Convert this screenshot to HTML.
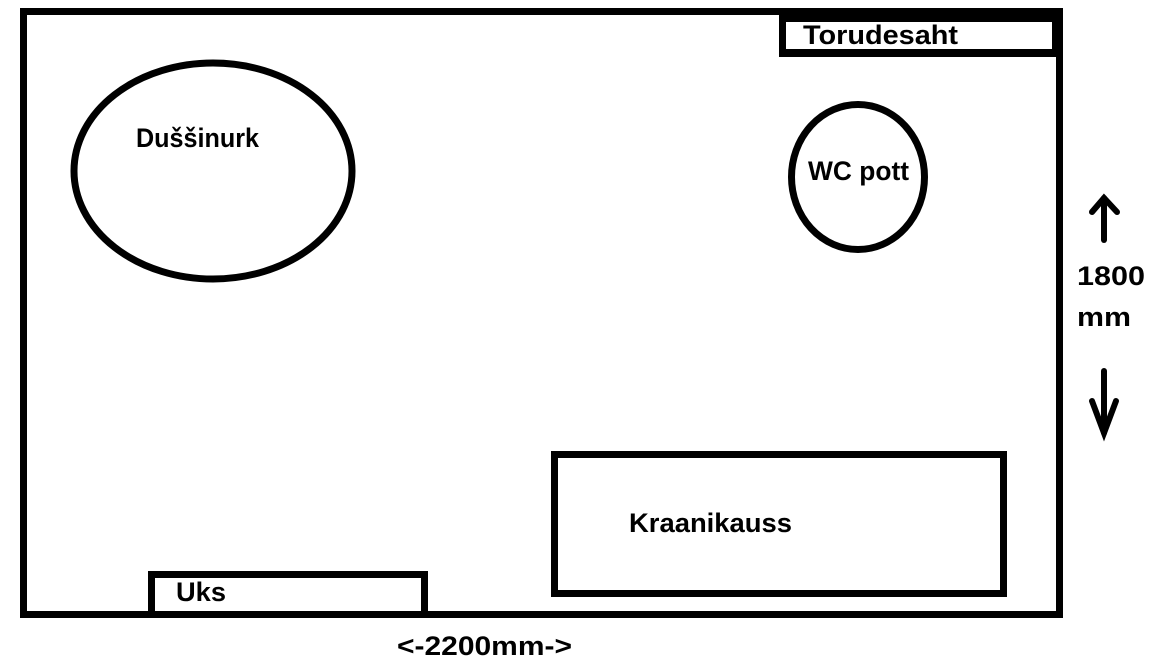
<!DOCTYPE html>
<html><head><meta charset="utf-8"><style>
html,body{margin:0;padding:0;background:#fff;}
svg{display:block}
text{font-family:"Liberation Sans",sans-serif;font-weight:bold;font-size:27px;fill:#000}
</style></head><body>
<svg width="1152" height="661" viewBox="0 0 1152 661" xmlns="http://www.w3.org/2000/svg">
<rect x="0" y="0" width="1152" height="661" fill="#fff"/>
<rect x="23.5" y="11.5" width="1036" height="603" fill="none" stroke="#000" stroke-width="7"/>
<rect x="779" y="8" width="284" height="49" fill="#000"/>
<rect x="786" y="22" width="266" height="27" fill="#fff"/>
<text x="803" y="44" textLength="155" lengthAdjust="spacingAndGlyphs">Torudesaht</text>
<ellipse cx="213" cy="171" rx="139" ry="108" fill="none" stroke="#000" stroke-width="7"/>
<text x="136" y="147" textLength="123" lengthAdjust="spacingAndGlyphs">Duššinurk</text>
<ellipse cx="858" cy="177" rx="66.5" ry="72.5" fill="none" stroke="#000" stroke-width="7"/>
<text x="808" y="180" textLength="101" lengthAdjust="spacingAndGlyphs">WC pott</text>
<rect x="554.5" y="454.5" width="449" height="139" fill="none" stroke="#000" stroke-width="7"/>
<text x="629" y="532" textLength="163" lengthAdjust="spacingAndGlyphs">Kraanikauss</text>
<rect x="151.5" y="574.5" width="273" height="40" fill="#fff" stroke="#000" stroke-width="7"/>
<text x="176" y="601" textLength="50" lengthAdjust="spacingAndGlyphs">Uks</text>
<text x="397" y="655" textLength="175" lengthAdjust="spacingAndGlyphs">&lt;-2200mm-&gt;</text>
<g stroke="#000" stroke-width="6" stroke-linecap="round" fill="none">
<line x1="1104" y1="198" x2="1104" y2="240"/>
<polyline points="1092,212 1104,198 1117,212"/>
<line x1="1104" y1="371" x2="1104" y2="433"/>
<polyline points="1092,401 1104,433 1116,401"/>
</g>
<text x="1077" y="285" textLength="68" lengthAdjust="spacingAndGlyphs">1800</text>
<text x="1077" y="326" textLength="54" lengthAdjust="spacingAndGlyphs">mm</text>
</svg>
</body></html>
